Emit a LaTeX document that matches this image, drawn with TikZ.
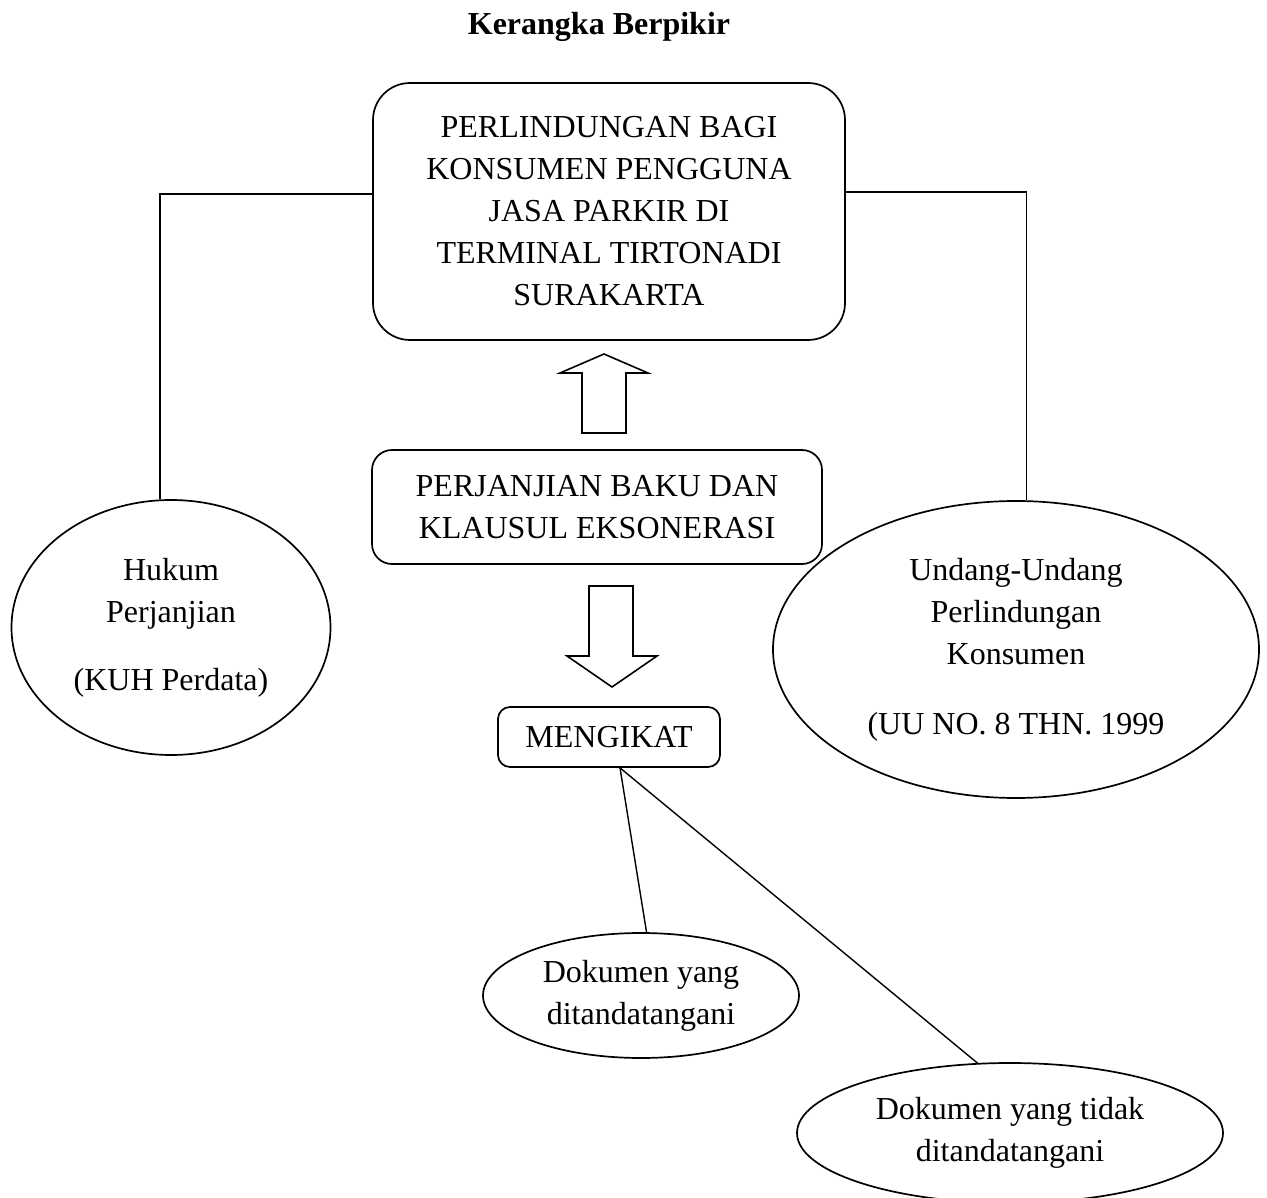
\documentclass[tikz,border=0pt]{standalone}
\usepackage{fontspec}
\setmainfont{Liberation Serif}
\usetikzlibrary{shapes.geometric}
\begin{document}
\begin{tikzpicture}[x=1pt,y=1pt, line width=1.7pt,
  txt/.style={font=\fontsize{32}{42}\selectfont, align=center, inner sep=0pt},
  rbox/.style={txt, draw, rectangle},
  oval/.style={txt, draw, ellipse},
  conn/.style={line width=1.4pt},
  blockarrow/.style={line width=1.6pt, line join=miter}]
\useasboundingbox (0,0) rectangle (1267,-1198);
\node[font=\bfseries\fontsize{32}{38}\selectfont, anchor=base, inner sep=0pt] (title) at (599,-35) {Kerangka Berpikir};
\node[rbox, rounded corners=37pt, minimum width=472pt, minimum height=257pt] (top) at (609,-211.5)
  {PERLINDUNGAN BAGI\\KONSUMEN PENGGUNA\\JASA PARKIR DI\\TERMINAL TIRTONADI\\SURAKARTA};
\node[rbox, rounded corners=20pt, minimum width=450pt, minimum height=114pt] (mid) at (597,-507)
  {PERJANJIAN BAKU DAN\\KLAUSUL EKSONERASI};
\node[rbox, rounded corners=12pt, minimum width=222pt, minimum height=60pt] (mk) at (609,-737) {MENGIKAT};
\node[oval, minimum width=319pt, minimum height=255pt] (le) at (171,-627.5)
  {Hukum\\Perjanjian\\[26pt](KUH Perdata)};
\node[oval, minimum width=486pt, minimum height=297pt] (re) at (1016,-649.5)
  {Undang-Undang\\Perlindungan\\Konsumen\\[28pt](UU NO. 8 THN. 1999};
\node[oval, minimum width=316pt, minimum height=125pt] (e1) at (641,-995.5)
  {Dokumen yang\\ditandatangani};
\node[oval, minimum width=426pt, minimum height=140pt] (e2) at (1010,-1133)
  {Dokumen yang tidak\\ditandatangani};
% connectors
\coordinate (ly) at (0,-194);
\coordinate (ry) at (0,-192);
\draw[conn] (top.west |- ly) -| (le.95);
\draw[conn] (top.east |- ry) -| (re.86);
\coordinate (mkb) at ([xshift=11pt]mk.south);
\draw[conn] (mkb) -- (e1.85);
\draw[conn] (mkb) -- (e2.115);
% hollow block arrows
\draw[blockarrow] (582,-433) -- (582,-373) -- (560,-373) -- (604,-354) -- (648,-373) -- (626,-373) -- (626,-433) -- cycle;
\draw[blockarrow] (589,-586) -- (633,-586) -- (633,-656) -- (657,-656) -- (612,-687) -- (567,-656) -- (589,-656) -- cycle;
\end{tikzpicture}
\end{document}
